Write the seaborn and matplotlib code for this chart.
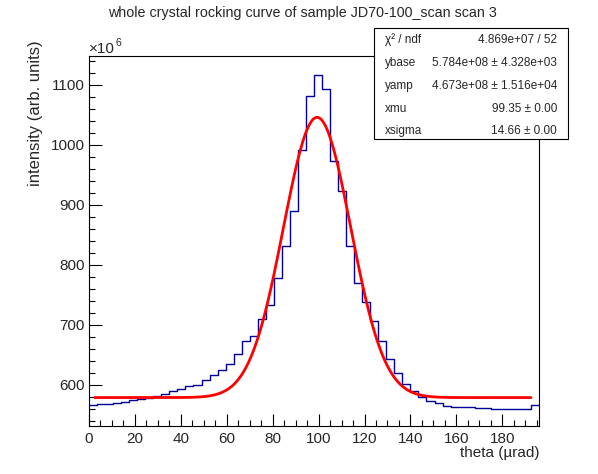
import numpy as np
import pandas as pd
import matplotlib
matplotlib.use("Agg")
import matplotlib.pyplot as plt
from matplotlib.patches import Rectangle
from matplotlib.ticker import MultipleLocator
import seaborn as sns

# histogram contents (units of 1e6), 56 bins of 3.5 urad starting at 0
bin_width = 3.5
counts = [565.2, 567.0, 568.0, 569.7, 571.7, 574.0, 576.0, 577.8, 581.7, 585.0,
          590.0, 592.0, 597.0, 598.8, 607.3, 615.4, 625.2, 635.2, 650.9, 672.3,
          680.8, 708.6, 733.3, 778.6, 830.4, 890.1, 990.8, 1080.8, 1117.0, 1092.5,
          972.5, 923.6, 830.8, 770.0, 737.5, 705.3, 672.0, 642.0, 618.6, 600.3,
          588.6, 578.6, 572.0, 568.6, 564.7, 563.0, 562.0, 562.0, 560.3, 560.3,
          558.6, 558.6, 558.6, 558.6, 558.6, 565.3]

# fit parameters from the stats box
ybase = 578.4
yamp = 467.3
xmu = 99.35
xsigma = 14.66
fit_range = (2.5, 192.5)

stat_labels = ["χ² / ndf", "ybase", "yamp", "xmu", "xsigma"]
stat_values = ["4.869e+07 / 52", "5.784e+08 ± 4.328e+03", "4.673e+08 ± 1.516e+04",
               "99.35 ± 0.00", "14.66 ± 0.00"]

sns.set_theme(style="white")
plt.rcParams['font.family'] = ['Liberation Sans', 'DejaVu Sans']

edges = np.arange(len(counts) + 1) * bin_width
hist_df = pd.DataFrame({"theta": edges[:-1] + bin_width / 2, "w": counts})
theta_fit = np.linspace(fit_range[0], fit_range[1], 500)
fit_curve = ybase + yamp * np.exp(-0.5 * ((theta_fit - xmu) / xsigma) ** 2)

fig = plt.figure(figsize=(5.98, 4.74), dpi=100)
ax = fig.add_axes([89 / 598, 1 - 426 / 474, 450 / 598, 370 / 474])

sns.histplot(data=hist_df, x="theta", weights="w", bins=list(edges), element="step",
             fill=False, color="#000099", linewidth=1.0, ax=ax)
sns.lineplot(x=theta_fit, y=fit_curve, color="red", linewidth=2.0, ax=ax)

ax.set_xlim(0, edges[-1])
ax.set_ylim(531, 1148)
ax.set_xlabel("")
ax.set_ylabel("")
ax.grid(False)

ax.xaxis.set_major_locator(MultipleLocator(20))
ax.xaxis.set_minor_locator(MultipleLocator(5))
ax.yaxis.set_major_locator(MultipleLocator(100))
ax.yaxis.set_minor_locator(MultipleLocator(20))
ax.tick_params(which="both", direction="in", top=False, right=False,
               left=True, bottom=True, color="black", width=0.8)
ax.tick_params(which="major", length=9, labelsize=11)
ax.tick_params(which="minor", length=4.5)
ax.tick_params(axis="y", which="major", pad=3)
ax.tick_params(axis="x", which="major", pad=4)
for s in ax.spines.values():
    s.set_color("black")
    s.set_linewidth(0.8)

fig.text(0.505, 1 - 13 / 474, "whole crystal rocking curve of sample JD70-100_scan scan 3",
         ha="center", va="center", fontsize=10.3)
fig.text(36 / 598, 1 - 40 / 474, "intensity (arb. units)", rotation=90,
         ha="center", va="top", fontsize=12)
fig.text(539 / 598, 1 - 453 / 474, "theta (µrad)", ha="right", va="center", fontsize=11)
fig.text(89 / 598, 1 - 53 / 474, "×10", ha="left", va="baseline", fontsize=11)
fig.text(115 / 598, 1 - 46 / 474, "6", ha="left", va="baseline", fontsize=7.5)

# stats box
bx0, bx1, by0, by1 = 374, 568, 28, 139
fig.patches.append(Rectangle((bx0 / 598, 1 - by1 / 474), (bx1 - bx0) / 598,
                             (by1 - by0) / 474, transform=fig.transFigure,
                             facecolor="white", edgecolor="black", linewidth=0.8,
                             zorder=5))
row_y = [40, 63, 86, 109, 131]
for lab, val, yy in zip(stat_labels, stat_values, row_y):
    fig.text(385 / 598, 1 - yy / 474, lab, ha="left", va="center", fontsize=8.5, zorder=6)
    fig.text(557 / 598, 1 - yy / 474, val, ha="right", va="center", fontsize=8.5, zorder=6)

fig.savefig("out.png", dpi=100)
